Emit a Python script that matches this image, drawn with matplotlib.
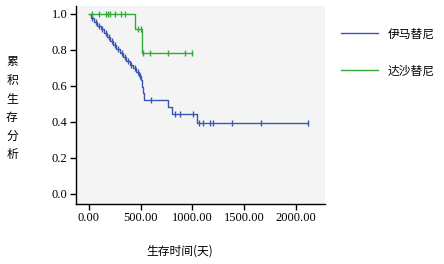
import matplotlib
matplotlib.use("Agg")
import matplotlib.pyplot as plt
import numpy as np

# ---- data ----
groups = ["伊马替尼", "达沙替尼"]
colors = ["#3b56b0", "#35a83a"]

# 伊马替尼 (blue): event times and survival after each event
blue_event_t = [15, 50, 80, 115, 145, 175, 205, 235, 265, 300, 330, 360, 395, 425, 455, 485, 505,
                515, 525, 535, 762, 799, 1046]
blue_event_s = [0.978, 0.957, 0.935, 0.914, 0.892, 0.870, 0.849, 0.827, 0.806, 0.784, 0.762, 0.741,
                0.719, 0.698, 0.676, 0.654, 0.633, 0.596, 0.559, 0.522, 0.483, 0.444, 0.396]
blue_censor_t = [30, 65, 95, 130, 160, 190, 220, 250, 280, 315, 345, 375, 410, 440, 470, 495,
                 599, 831, 879, 1002, 1066, 1099, 1169, 1195, 1379, 1657, 2120]
blue_end = 2120

# 达沙替尼 (green)
green_event_t = [440, 510]
green_event_s = [0.917, 0.786]
green_censor_t = [29, 97, 165, 184, 203, 251, 309, 348, 473, 500, 518, 589, 766, 927, 992]
green_end = 1000

xticks = [0, 500, 1000, 1500, 2000]
xticklabels = ["0.00", "500.00", "1000.00", "1500.00", "2000.00"]
yticks = [0.0, 0.2, 0.4, 0.6, 0.8, 1.0]
yticklabels = ["0.0", "0.2", "0.4", "0.6", "0.8", "1.0"]


def step_curve(ev_t, ev_s, end):
    t = [0] + list(ev_t) + [end]
    s = [1.0] + list(ev_s) + [ev_s[-1]]
    return t, s


def surv_at(ev_t, ev_s, times):
    out = []
    for x in times:
        v = 1.0
        for et, es in zip(ev_t, ev_s):
            if et <= x:
                v = es
        out.append(v)
    return out


cjk = ["Noto Sans CJK SC", "DejaVu Sans"]

fig = plt.figure(figsize=(4.44, 2.64), dpi=100)
ax = fig.add_axes([0.171, 0.227, 0.561, 0.750])
ax.set_facecolor("#f4f4f4")

series = [
    (blue_event_t, blue_event_s, blue_censor_t, blue_end),
    (green_event_t, green_event_s, green_censor_t, green_end),
]
handles = []
for (et, es, ct, end), c, name in zip(series, colors, groups):
    t, s = step_curve(et, es, end)
    h, = ax.step(t, s, where="post", color=c, lw=1.0, label=name)
    ax.plot(ct, surv_at(et, es, ct), linestyle="none", marker="|", ms=5, mew=1.0, color=c)
    handles.append(h)

ax.set_xlim(-126, 2280)
ax.set_ylim(-0.056, 1.044)
ax.set_xticks(xticks)
ax.set_xticklabels(xticklabels, fontfamily="Liberation Serif", fontsize=9)
ax.set_yticks(yticks)
ax.set_yticklabels(yticklabels, fontfamily="Liberation Serif", fontsize=9)
ax.tick_params(direction="out", length=4, width=1, colors="black", pad=2)
for sp in ["top", "right"]:
    ax.spines[sp].set_visible(False)
for sp in ["left", "bottom"]:
    ax.spines[sp].set_linewidth(1.0)

fig.text(0.404, 0.048, "生存时间(天)", ha="center", va="center",
         fontfamily=cjk, fontsize=8.5)
fig.text(0.027, 0.59, "\n".join("累积生存分析"), ha="center", va="center",
         fontfamily=cjk, fontsize=8.5, linespacing=1.55)

leg = fig.legend(handles=handles, labels=groups, loc="upper left",
                 bbox_to_anchor=(0.745, 0.937), frameon=False,
                 prop={"family": cjk, "size": 8.5},
                 handlelength=3.1, labelspacing=2.05, handletextpad=0.8)

fig.savefig("out.png", dpi=100)
